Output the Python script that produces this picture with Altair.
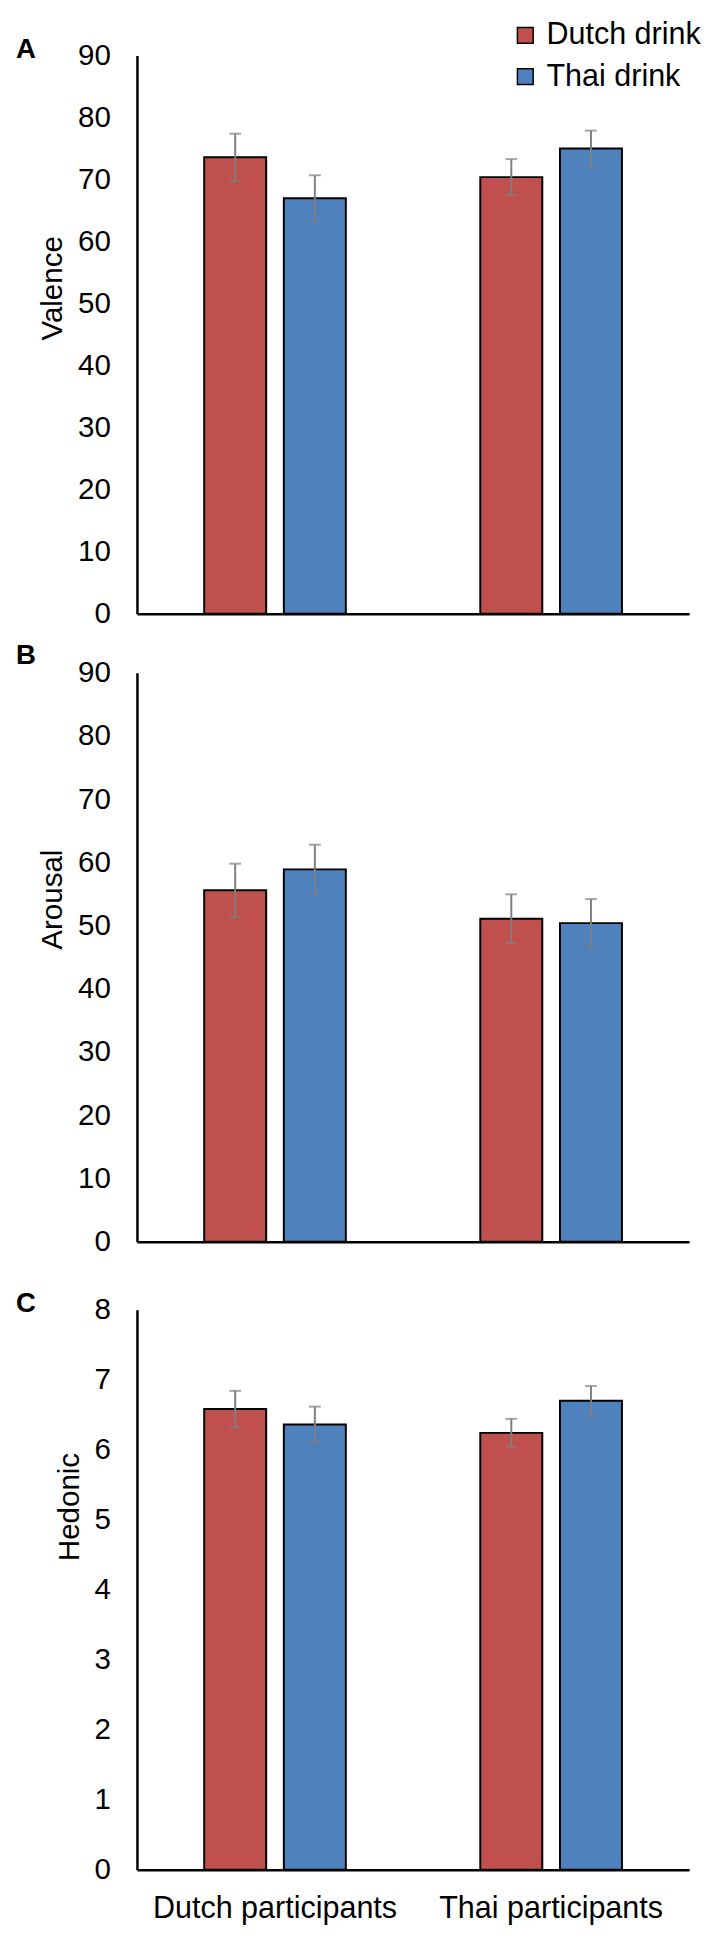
import altair as alt
import pandas as pd

participants = ["Dutch participants", "Thai participants"]
drinks = ["Dutch drink", "Thai drink"]
colors = ["#C0504D", "#4F81BD"]

# order: (Dutch participants: Dutch drink, Thai drink), (Thai participants: Dutch drink, Thai drink)
valence_mean = [73.6, 67.0, 70.4, 75.0]
valence_err = [3.8, 3.7, 2.9, 2.9]
arousal_mean = [55.6, 58.9, 51.1, 50.4]
arousal_err = [4.2, 3.9, 3.85, 3.8]
hedonic_mean = [6.58, 6.36, 6.24, 6.70]
hedonic_err = [0.26, 0.255, 0.20, 0.21]

va_ticks = [0, 10, 20, 30, 40, 50, 60, 70, 80, 90]
ar_ticks = [0, 10, 20, 30, 40, 50, 60, 70, 80, 90]
he_ticks = [0, 1, 2, 3, 4, 5, 6, 7, 8]

FONT = "Liberation Sans"
ERR = "#7F7F7F"
TITLE_SIZE = 30


def make_df(means, errs):
    rows = []
    i = 0
    for p in participants:
        for d in drinks:
            rows.append({"participants": p, "drink": d, "mean": means[i],
                         "lo": means[i] - errs[i], "hi": means[i] + errs[i]})
            i += 1
    return pd.DataFrame(rows)


def panel(df, letter, ytitle, ticks, height, show_legend, show_xlabels,
          title_dy, title_y):
    x = alt.X("participants:N", sort=participants, title=None,
              scale=alt.Scale(paddingInner=0.487, paddingOuter=0.2435),
              axis=alt.Axis(labels=show_xlabels, ticks=False, tickSize=0,
                            domainColor="black", domainWidth=2.5,
                            labelFontSize=31, labelPadding=24, labelAngle=0,
                            labelLimit=400, labelColor="black", labelFont=FONT))
    xo = alt.XOffset("drink:N", sort=drinks,
                     scale=alt.Scale(paddingInner=0.222, paddingOuter=0))
    yscale = alt.Scale(domain=[ticks[0], ticks[-1]], nice=False)
    yaxis = alt.Axis(values=ticks, format="d", ticks=False, tickSize=0, grid=False,
                     domainColor="black", domainWidth=2.5,
                     labelFontSize=30, labelPadding=27, labelColor="black",
                     labelFont=FONT, titleFont=FONT, titleFontSize=TITLE_SIZE,
                     titleFontWeight="normal", titleColor="black",
                     titlePadding=10, titleY=title_y)
    y = alt.Y("mean:Q", title=ytitle, scale=yscale, axis=yaxis)
    if show_legend:
        leg = alt.Legend(title=None, orient="none", legendX=379, legendY=-36,
                         symbolType="square", symbolSize=256,
                         symbolStrokeColor="black", symbolStrokeWidth=1.5,
                         labelFontSize=31, labelFont=FONT, labelColor="black",
                         rowPadding=10, labelOffset=6)
    else:
        leg = None
    color = alt.Color("drink:N", sort=drinks,
                      scale=alt.Scale(domain=drinks, range=colors), legend=leg)

    base = alt.Chart(df)
    bars = base.mark_bar(stroke="black", strokeWidth=2).encode(
        x=x, xOffset=xo, y=y, color=color)
    rules = base.mark_rule(color=ERR, strokeWidth=2).encode(
        x=x, xOffset=xo, y=alt.Y("lo:Q", title=ytitle, scale=yscale, axis=yaxis),
        y2="hi:Q")
    cap_lo = base.mark_tick(color=ERR, thickness=2, size=12).encode(
        x=x, xOffset=xo, y=alt.Y("lo:Q", title=ytitle, scale=yscale, axis=yaxis))
    cap_hi = base.mark_tick(color=ERR, thickness=2, size=12).encode(
        x=x, xOffset=xo, y=alt.Y("hi:Q", title=ytitle, scale=yscale, axis=yaxis))

    return alt.layer(bars, rules, cap_lo, cap_hi).properties(
        width=561, height=height,
        title=alt.TitleParams(letter, anchor="start", frame="group", dx=-123,
                              dy=title_dy, fontSize=28, fontWeight="bold",
                              font=FONT, color="black"))


pa = panel(make_df(valence_mean, valence_err), "A", "Valence", va_ticks, 567,
           True, False, 27, 236)
pb = panel(make_df(arousal_mean, arousal_err), "B", "Arousal", ar_ticks, 578,
           False, False, 16, 230)
pc = panel(make_df(hedonic_mean, hedonic_err), "C", "Hedonic", he_ticks, 569,
           False, True, 27, 200)

chart = alt.vconcat(pa, alt.vconcat(pb, pc, spacing=34), spacing=14).configure(
    padding={"left": 8, "top": -3, "right": 0, "bottom": 0},
    font=FONT,
).configure_axis(
    titleFontSize=TITLE_SIZE, titleFont=FONT, titleColor="black",
).configure_view(stroke=None)

chart.save("out.html", embed_options={"renderer": "svg", "actions": False})
